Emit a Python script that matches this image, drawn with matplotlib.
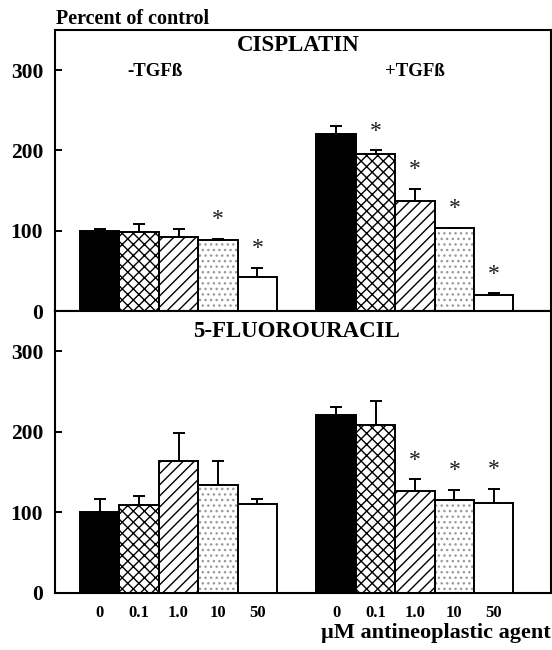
import matplotlib
matplotlib.use("Agg")
import matplotlib.pyplot as plt
import numpy as np

plt.rcParams["font.family"] = ["Liberation Serif", "DejaVu Serif"]
plt.rcParams["font.weight"] = "bold"
plt.rcParams["hatch.linewidth"] = 1.0

# concentraciones (uM) y valores en % del control
doses = ["0", "0.1", "1.0", "10", "50"]
cis_minus = [100, 99, 92, 88, 42]
cis_minus_err = [2, 9, 10, 2, 12]
cis_plus = [221, 195, 137, 103, 20]
cis_plus_err = [10, 5, 15, 1, 2]
fu_minus = [100, 109, 164, 134, 111]
fu_minus_err = [17, 11, 35, 30, 6]
fu_plus = [221, 208, 126, 115, 112]
fu_plus_err = [10, 30, 15, 13, 17]

# significancia (*) por barra
cis_minus_sig = [False, False, False, True, True]
cis_plus_sig = [False, True, True, True, True]
fu_minus_sig = [False, False, False, False, False]
fu_plus_sig = [False, False, True, True, True]

# estilo de cada dosis: (relleno, hatch, color del hatch)
STYLES = [("black", None, None), ("white", "xxx", "black"),
          ("white", "///", "black"), ("white", "...", "#9a9a9a"),
          ("white", None, None)]

X1 = np.arange(5)
X2 = np.arange(5) + 6
STAR_OFF = 24


def barras(ax, xs, vals, errs, sig):
    for x, v, e, s, (fc, h, hc) in zip(xs, vals, errs, sig, STYLES):
        if h is not None:
            ax.bar(x, v, width=1.0, color=fc, hatch=h, edgecolor=hc,
                   linewidth=0, zorder=2)
            ax.bar(x, v, width=1.0, fill=False, edgecolor="black",
                   linewidth=1.4, zorder=3)
        else:
            ax.bar(x, v, width=1.0, color=fc, edgecolor="black",
                   linewidth=1.4, zorder=3)
        ax.errorbar(x, v, yerr=[[0], [e]], fmt="none", ecolor="black",
                    elinewidth=1.4, capsize=4, capthick=1.4, zorder=4)
        if s:
            ax.text(x, v + e + STAR_OFF, "*", ha="center", va="center",
                    fontsize=17, fontweight="normal", color="#1a1a1a")


fig = plt.figure(figsize=(5.52, 6.5), dpi=100)
ax1 = fig.add_axes([0.0996, 0.5215, 0.8977, 0.4323])
ax2 = fig.add_axes([0.0996, 0.0877, 0.8977, 0.4338], sharex=ax1)

barras(ax1, X1, cis_minus, cis_minus_err, cis_minus_sig)
barras(ax1, X2, cis_plus, cis_plus_err, cis_plus_sig)
barras(ax2, X1, fu_minus, fu_minus_err, fu_minus_sig)
barras(ax2, X2, fu_plus, fu_plus_err, fu_plus_sig)

for ax in (ax1, ax2):
    ax.set_ylim(0, 350)
    ax.set_xlim(-1.135, 11.44)
    ax.set_yticks([0, 100, 200, 300])
    ax.tick_params(axis="y", direction="in", length=5, width=1.4,
                   pad=8.5, labelsize=15.5)
    for sp in ax.spines.values():
        sp.set_linewidth(1.5)

ax1.tick_params(axis="x", length=0, labelbottom=False)
ax2.set_xticks(np.concatenate([X1, X2]))
ax2.set_xticklabels(doses + doses)
ax2.tick_params(axis="x", length=0, pad=9, labelsize=12)

ax1.text(0.49, 0.944, "CISPLATIN", transform=ax1.transAxes, ha="center",
         va="center", fontsize=16.5)
ax1.text(1.4, 298, "-TGFß", ha="center", va="center", fontsize=13.5)
ax1.text(8.0, 298, "+TGFß", ha="center", va="center", fontsize=13.5)
ax2.text(0.487, 0.926, "5-FLUOROURACIL", transform=ax2.transAxes,
         ha="center", va="center", fontsize=16.5)

fig.text(0.101, 0.971, "Percent of control", ha="left", va="center",
         fontsize=14.5)
fig.text(0.998, 0.026, "µM antineoplastic agent", ha="right", va="center",
         fontsize=16)

fig.savefig("out.png", dpi=100)
